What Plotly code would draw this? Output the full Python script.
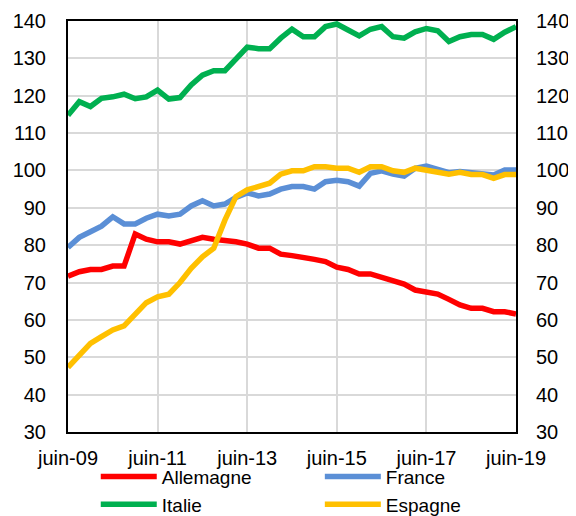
import pandas as pd
import plotly.graph_objects as go

dates = pd.date_range("2009-06-01", periods=41, freq="3MS")

allemagne = [71.7, 72.9, 73.5, 73.5, 74.4, 74.4, 83.0, 81.6, 80.9, 80.9,
             80.3, 81.1, 82.1, 81.6, 81.3, 80.9, 80.3, 79.2, 79.2, 77.6,
             77.2, 76.8, 76.2, 75.6, 74.1, 73.5, 72.3, 72.3, 71.4, 70.7,
             69.6, 68.0, 67.5, 66.9, 65.5, 64.0, 63.1, 63.1, 62.2, 62.2, 61.6]
france = [79.4, 82.1, 83.6, 85.1, 87.6, 85.7, 85.7, 87.2, 88.3, 87.8,
          88.3, 90.5, 91.9, 90.5, 91.0, 92.8, 94.0, 93.2, 93.7, 95.0,
          95.7, 95.7, 95.0, 97.0, 97.4, 97.0, 95.8, 99.2, 99.9, 99.0,
          98.5, 100.6, 101.2, 100.3, 99.4, 99.7, 99.4, 99.4, 98.8, 100.1, 100.1]
italie = [114.8, 118.4, 117.1, 119.3, 119.7, 120.4, 119.2, 119.7, 121.5, 119.1,
          119.5, 122.9, 125.5, 126.7, 126.7, 130.0, 133.0, 132.6, 132.6, 135.4,
          137.8, 135.8, 135.8, 138.5, 139.2, 137.6, 136.0, 137.8, 138.5, 135.8,
          135.4, 137.1, 138.0, 137.4, 134.5, 135.8, 136.4, 136.4, 135.1, 137.0, 138.5]
espagne = [47.3, 50.3, 53.7, 55.5, 57.3, 58.4, 61.3, 64.6, 66.2, 66.9,
           70.0, 73.8, 76.9, 79.2, 86.7, 93.0, 94.8, 95.8, 96.6, 99.0,
           99.9, 99.9, 101.0, 101.0, 100.6, 100.6, 99.5, 101.0, 101.0, 99.9,
           99.5, 100.6, 100.1, 99.7, 99.0, 99.5, 98.9, 98.9, 97.9, 98.9, 98.9]

series_names = ["Allemagne", "France", "Italie", "Espagne"]
series_values = [allemagne, france, italie, espagne]
series_colors = ["#FF0000", "#5B8FD6", "#00B050", "#FFC000"]
series_legends = ["legend", "legend2", "legend", "legend2"]

tick_dates = ["2009-06-01", "2011-06-01", "2013-06-01", "2015-06-01",
              "2017-06-01", "2019-06-01"]
tick_labels = ["juin-09", "juin-11", "juin-13", "juin-15", "juin-17", "juin-19"]
y_ticks = [30, 40, 50, 60, 70, 80, 90, 100, 110, 120, 130, 140]

FONT = "Liberation Sans, Arial, sans-serif"

fig = go.Figure()
for name, vals, col, lg in zip(series_names, series_values, series_colors, series_legends):
    fig.add_trace(go.Scatter(x=dates, y=vals, mode="lines", name=name,
                             line=dict(color=col, width=5.5), legend=lg))

# invisible trace to activate the mirrored right axis
fig.add_trace(go.Scatter(x=dates, y=espagne, yaxis="y2", mode="lines",
                         line=dict(color="rgba(0,0,0,0)", width=0),
                         showlegend=False, hoverinfo="skip"))

axis_font = dict(family=FONT, size=20, color="black")
legend_font = dict(family=FONT, size=19, color="black")

# page body has an 8px margin, so the figure is sized 568x508
fig.update_layout(
    width=568, height=508,
    margin=dict(l=60, r=60, t=13, b=84, autoexpand=False),
    paper_bgcolor="white", plot_bgcolor="white",
    font=axis_font,
    xaxis=dict(range=["2009-06-01", "2019-06-01"], tickvals=tick_dates,
               ticktext=tick_labels, showgrid=True, gridcolor="#D9D9D9",
               gridwidth=1.5, showline=True, linecolor="black", linewidth=2,
               mirror=True, ticks="", tickfont=axis_font, zeroline=False,
               ticklabelstandoff=7, automargin=False),
    yaxis=dict(range=[30, 140], tickvals=y_ticks, showgrid=True,
               gridcolor="#D9D9D9", gridwidth=1.5, showline=True,
               linecolor="black", linewidth=2, mirror=True, ticks="",
               tickfont=axis_font, zeroline=False, ticklabelstandoff=16,
               automargin=False),
    yaxis2=dict(range=[30, 140], tickvals=y_ticks, overlaying="y", side="right",
                showgrid=False, showline=False, ticks="", tickfont=axis_font,
                zeroline=False, ticklabelstandoff=19, automargin=False),
    legend=dict(x=0.1545, y=0.115, xref="container", yref="container",
                xanchor="left", yanchor="top",
                orientation="v", font=legend_font,
                bgcolor="rgba(0,0,0,0)", itemwidth=56, tracegroupgap=0),
    legend2=dict(x=0.549, y=0.115, xref="container", yref="container",
                 xanchor="left", yanchor="top",
                 orientation="v", font=legend_font,
                 bgcolor="rgba(0,0,0,0)", itemwidth=56, tracegroupgap=0),
    showlegend=True,
)

fig.write_html("out.html")
